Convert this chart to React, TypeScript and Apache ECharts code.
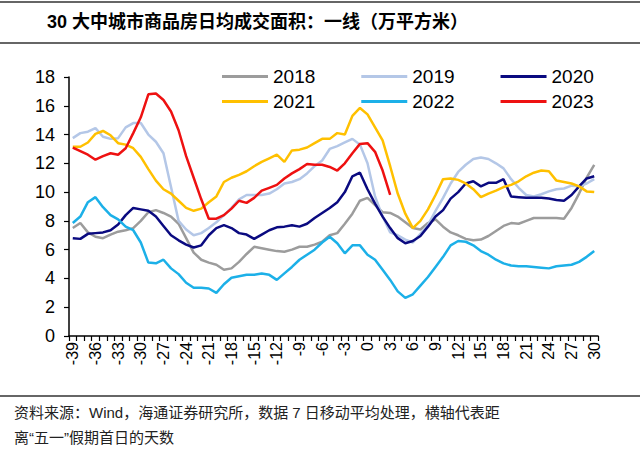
import React, { useEffect, useRef } from 'react';
import * as echarts from 'echarts';

const days = [
  '-39','-38','-37','-36','-35','-34','-33','-32','-31','-30',
  '-29','-28','-27','-26','-25','-24','-23','-22','-21','-20',
  '-19','-18','-17','-16','-15','-14','-13','-12','-11','-10',
  '-9','-8','-7','-6','-5','-4','-3','-2','-1','0',
  '1','2','3','4','5','6','7','8','9','10',
  '11','12','13','14','15','16','17','18','19','20',
  '21','22','23','24','25','26','27','28','29','30',
];

const s2018 = [
  7.5, 7.85, 7.2, 6.9, 6.8, 7.05, 7.25, 7.35, 7.5, 8.0,
  8.6, 8.75, 8.55, 8.3, 7.8, 6.8, 5.8, 5.3, 5.1, 4.95,
  4.6, 4.7, 5.15, 5.7, 6.2, 6.1, 6.0, 5.9, 5.85, 6.0,
  6.2, 6.2, 6.35, 6.55, 7.0, 7.15, 7.8, 8.5, 9.4, 9.6,
  9.1, 8.6, 8.55, 8.3, 7.9, 7.5, 7.4, 7.85, 8.1, 7.6,
  7.2, 7.0, 6.75, 6.65, 6.7, 6.95, 7.3, 7.65, 7.85, 7.8,
  8.0, 8.2, 8.2, 8.2, 8.2, 8.15, 8.9, 9.9, 11.0, 11.9,
];

const s2019 = [
  13.75, 14.1, 14.2, 14.45, 13.85, 13.7, 13.75, 14.5, 14.8, 14.8,
  14.0, 13.5, 12.7, 10.35, 8.0, 7.4, 7.0, 7.15, 7.5, 7.9,
  8.4, 8.9, 9.5, 9.8, 9.8, 9.8, 9.9, 10.2, 10.6, 10.7,
  10.9, 11.3, 11.8, 12.2, 13.0, 13.2, 13.45, 13.7, 13.3, 12.0,
  9.7, 8.3, 7.2, 7.0, 6.7, 6.5, 7.1, 7.7, 8.7, 9.6,
  10.6, 11.4, 11.9, 12.3, 12.4, 12.3, 12.0, 11.65, 10.9, 10.3,
  9.8, 9.7, 9.85, 10.05, 10.2, 10.25, 10.45, 10.4, 10.6, 10.9,
];

const s2020 = [
  6.8, 6.75, 7.1, 7.15, 7.2, 7.35, 7.75, 8.4, 8.9, 8.8,
  8.7, 8.3, 7.65, 7.0, 6.65, 6.35, 6.15, 6.3, 7.0, 7.5,
  7.7, 7.5, 7.15, 7.05, 6.75, 7.05, 7.35, 7.55, 7.6, 7.7,
  7.6, 7.8, 8.2, 8.55, 8.9, 9.3, 10.0, 11.1, 11.35, 10.2,
  9.2, 8.3, 7.5, 6.8, 6.45, 6.6, 6.95, 7.6, 8.3, 8.75,
  9.55, 10.0, 10.6, 10.75, 10.4, 10.65, 10.65, 10.9, 9.7, 9.65,
  9.6, 9.6, 9.6, 9.55, 9.45, 9.4, 9.8, 10.4, 10.95, 11.1,
];

const s2021 = [
  13.15, 13.15, 13.45, 14.05, 14.25, 13.95, 13.4, 13.3, 13.05, 12.45,
  11.6, 10.8, 10.2, 9.9, 9.4, 8.9, 8.7, 8.85, 9.3, 9.7,
  10.7, 11.0, 11.2, 11.45, 11.8, 12.1, 12.35, 12.6, 12.1, 12.9,
  12.95, 13.1, 13.4, 13.7, 13.7, 14.1, 14.0, 15.3, 15.85, 15.4,
  14.5, 13.6, 11.8, 9.9, 8.5, 7.5, 8.0, 8.8, 9.8, 10.9,
  10.95, 10.85, 10.6, 10.2, 9.65, 9.9, 10.1, 10.35, 10.5, 10.75,
  11.1, 11.35, 11.5, 11.45, 10.8, 10.7, 10.6, 10.4, 10.05, 10.0,
];

const s2022 = [
  7.85, 8.3, 9.3, 9.65, 8.95, 8.4, 8.1, 7.6, 7.35, 6.5,
  5.1, 5.05, 5.3, 4.7, 4.3, 3.7, 3.35, 3.35, 3.3, 3.0,
  3.6, 4.05, 4.15, 4.25, 4.25, 4.35, 4.25, 3.9, 4.35, 4.8,
  5.3, 5.65, 6.0, 6.5, 6.9, 6.45, 5.75, 6.3, 6.3, 5.65,
  5.3, 4.6, 3.9, 3.1, 2.65, 2.9, 3.5, 4.1, 4.8, 5.5,
  6.3, 6.6, 6.55, 6.3, 5.9, 5.65, 5.3, 5.05, 4.9, 4.85,
  4.85, 4.8, 4.75, 4.7, 4.85, 4.9, 4.95, 5.15, 5.5, 5.9,
];

const s2023 = [
  13.1, 12.85, 12.6, 12.25, 12.5, 12.7, 12.6, 13.05, 14.1, 15.2,
  16.8, 16.85, 16.4, 15.6, 14.3, 12.5, 11.0, 9.5, 8.15, 8.15,
  8.4, 8.85, 9.4, 9.25, 9.6, 10.1, 10.3, 10.5, 10.95, 11.3,
  11.6, 11.95, 11.9, 11.9, 11.75, 11.5, 12.0, 12.7, 13.35, 13.4,
  12.8, 11.5, 9.8,
];

const seriesNames = ['2018', '2019', '2020', '2021', '2022', '2023'];
const seriesData = [s2018, s2019, s2020, s2021, s2022, s2023];
const seriesColors = ['#9c9c9c', '#b4c7e7', '#0a0a80', '#ffc000', '#1cb0e8', '#ee1111'];

const titleText = '30 大中城市商品房日均成交面积：一线（万平方米）';
const noteLine1 = '资料来源：Wind，海通证券研究所，数据 7 日移动平均处理，横轴代表距';
const noteLine2 = '离“五一”假期首日的天数';

const FONT = '"Liberation Sans", Arial, "Noto Sans CJK SC", sans-serif';
const CJK = '"Liberation Sans", "Noto Sans CJK SC", sans-serif';

export default function App() {
  const ref = useRef<HTMLDivElement>(null);
  useEffect(() => {
    if (!ref.current) return;
    const chart = echarts.init(ref.current, null, { renderer: 'svg' });
    const legendCommon = {
      left: 217,
      icon: 'rect',
      itemWidth: 46,
      itemHeight: 3,
      itemGap: 46,
      textStyle: { fontSize: 19, fontFamily: FONT, color: '#000' },
    };
    chart.setOption({
      animation: false,
      backgroundColor: '#fff',
      grid: { left: 69, right: 42, top: 77, bottom: 124 },
      legend: [
        { ...legendCommon, top: 62, data: seriesNames.slice(0, 3) },
        { ...legendCommon, top: 87, data: seriesNames.slice(3) },
      ],
      xAxis: {
        type: 'category',
        data: days,
        boundaryGap: true,
        axisLine: { lineStyle: { color: '#000', width: 1.5 } },
        axisTick: { show: true, interval: 0, length: 5, lineStyle: { color: '#000', width: 1.2 } },
        axisLabel: {
          interval: 2,
          rotate: 90,
          fontSize: 16,
          fontFamily: FONT,
          color: '#000',
          margin: 6,
        },
        splitLine: { show: false },
      },
      yAxis: {
        type: 'value',
        min: 0,
        max: 18,
        interval: 2,
        axisLine: { show: true, lineStyle: { color: '#000', width: 1.5 } },
        axisTick: { show: true, length: 5, lineStyle: { color: '#000', width: 1.2 } },
        axisLabel: { fontSize: 18, fontFamily: FONT, color: '#000', margin: 14 },
        splitLine: { show: false },
      },
      series: seriesNames.map((name, i) => ({
        name,
        type: 'line',
        data: seriesData[i],
        symbol: 'none',
        showSymbol: false,
        smooth: false,
        lineStyle: { color: seriesColors[i], width: 2.5 },
        itemStyle: { color: seriesColors[i] },
      })),
      graphic: [
        { type: 'line', shape: { x1: 0, y1: 2, x2: 640, y2: 2 }, style: { stroke: '#333', lineWidth: 1.5 } },
        { type: 'line', shape: { x1: 0, y1: 43, x2: 640, y2: 43 }, style: { stroke: '#333', lineWidth: 1.5 } },
        { type: 'line', shape: { x1: 0, y1: 396, x2: 640, y2: 396 }, style: { stroke: '#333', lineWidth: 1.5 } },
        {
          type: 'text',
          left: 47,
          top: 13,
          style: { text: titleText, font: `bold 18px ${CJK}`, fill: '#000' },
        },
        {
          type: 'text',
          left: 14,
          top: 405,
          style: { text: noteLine1, font: `15px ${CJK}`, fill: '#222' },
        },
        {
          type: 'text',
          left: 14,
          top: 430,
          style: { text: noteLine2, font: `15px ${CJK}`, fill: '#222' },
        },
      ],
    });
    return () => chart.dispose();
  }, []);
  return (
    <div
      ref={ref}
      style={{ position: 'fixed', left: 0, top: 0, width: 640, height: 460, background: '#fff' }}
    />
  );
}
